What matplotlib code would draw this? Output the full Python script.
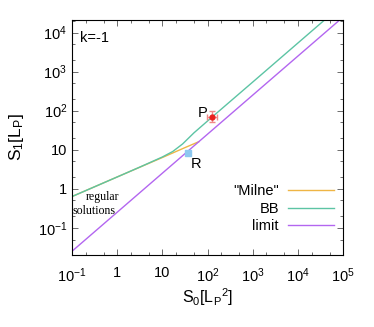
import numpy as np
import matplotlib
matplotlib.use('Agg')
import matplotlib.pyplot as plt
from matplotlib.ticker import FixedLocator, LogLocator, NullFormatter

plt.rcParams['font.family'] = ['Liberation Sans', 'DejaVu Sans']
plt.rcParams['mathtext.default'] = 'regular'

# curves
milne_s0 = [0.1, 1, 10, 30, 64]
milne_s1 = [0.63, 2.0, 6.3, 11, 16]

bb_s0 = [0.1, 1, 3.2, 10, 17, 28, 50, 125, 1000, 1e4, 4e4]
bb_s1 = [0.63, 2.0, 3.6, 6.5, 9.0, 14, 27, 68, 540, 5400, 2.16e4]

limit_s0 = [0.1, 1e5]
limit_s1 = [0.025, 2.5e4]

# points with error bars
p_s0, p_s1 = [125], [70]
p_xerr = [[30], [40]]
p_yerr = [[18], [28]]
r_s0, r_s1 = [37], [8.4]
r_xerr = [[4], [4]]
r_yerr = [[0.9], [0.9]]

xticks = [0.1, 1, 10, 100, 1e3, 1e4, 1e5]
xlabels = [r'$10^{-1}$', '1', '10', r'$10^{2}$', r'$10^{3}$', r'$10^{4}$', r'$10^{5}$']
yticks = [0.1, 1, 10, 100, 1e3, 1e4]
ylabels = [r'$10^{-1}$', '1', '10', r'$10^{2}$', r'$10^{3}$', r'$10^{4}$']

fig = plt.figure(figsize=(3.74, 3.27), dpi=100)
ax = fig.add_axes([0.1925, 0.22, 0.725, 0.719])

ax.plot(milne_s0, milne_s1, color='#efb545', lw=1.0, label='"Milne"')
ax.plot(bb_s0, bb_s1, color='#5cc4a4', lw=1.0, label='BB')
ax.plot(limit_s0, limit_s1, color='#b366f0', lw=1.0, label='limit')

ax.errorbar(p_s0, p_s1, xerr=p_xerr, yerr=p_yerr, fmt='o', ms=3.5,
            color='#e8201c', ecolor='#f08888', elinewidth=1.0, capsize=2)
ax.errorbar(r_s0, r_s1, xerr=r_xerr, yerr=r_yerr, fmt='s', ms=4,
            color='#8ec8f0', ecolor='#a8d4f4', elinewidth=1.0, capsize=1)

ax.set_xscale('log')
ax.set_yscale('log')
ax.set_xlim(0.1, 1e5)
ax.set_ylim(0.02, 2.1e4)

ax.xaxis.set_major_locator(FixedLocator(xticks))
ax.set_xticklabels(xlabels)
ax.yaxis.set_major_locator(FixedLocator(yticks))
ax.set_yticklabels(ylabels)
ax.xaxis.set_minor_locator(LogLocator(base=10, subs=[2, 5], numticks=20))
ax.yaxis.set_minor_locator(LogLocator(base=10, subs=[2, 5], numticks=20))
ax.xaxis.set_minor_formatter(NullFormatter())
ax.yaxis.set_minor_formatter(NullFormatter())
ax.tick_params(which='both', direction='in', top=True, right=True,
               labelsize=10.5, color='#555555')
ax.tick_params(which='major', length=4, width=0.6)
ax.tick_params(which='minor', length=2.5, width=0.6)
ax.tick_params(axis='x', pad=8)
for s in ax.spines.values():
    s.set_linewidth(0.8)

ax.set_xlabel(r'$S_0[L_P{}^2]$', fontsize=11.5, labelpad=1)
ax.set_ylabel(r'$S_1[L_P]$', fontsize=12.5, labelpad=8)

ax.text(0.03, 0.955, 'k=-1', transform=ax.transAxes, fontsize=10.5, va='top')
ax.text(76, 89, 'P', fontsize=10.5, ha='center', va='center')
ax.text(55, 4.4, 'R', fontsize=10.5, ha='center', va='center')
ax.text(0.47, 0.62, 'regular', family='Liberation Serif', fontsize=8.6,
        ha='center', va='center')
ax.text(0.31, 0.27, 'solutions', family='Liberation Serif', fontsize=8.6,
        ha='center', va='center')

ax.legend(loc='lower right', bbox_to_anchor=(1.0, 0.055), frameon=False,
          markerfirst=False, handlelength=3.2, fontsize=10.5,
          labelspacing=0.25, handletextpad=0.6, borderaxespad=0.2)

fig.savefig('out.png', dpi=100)
